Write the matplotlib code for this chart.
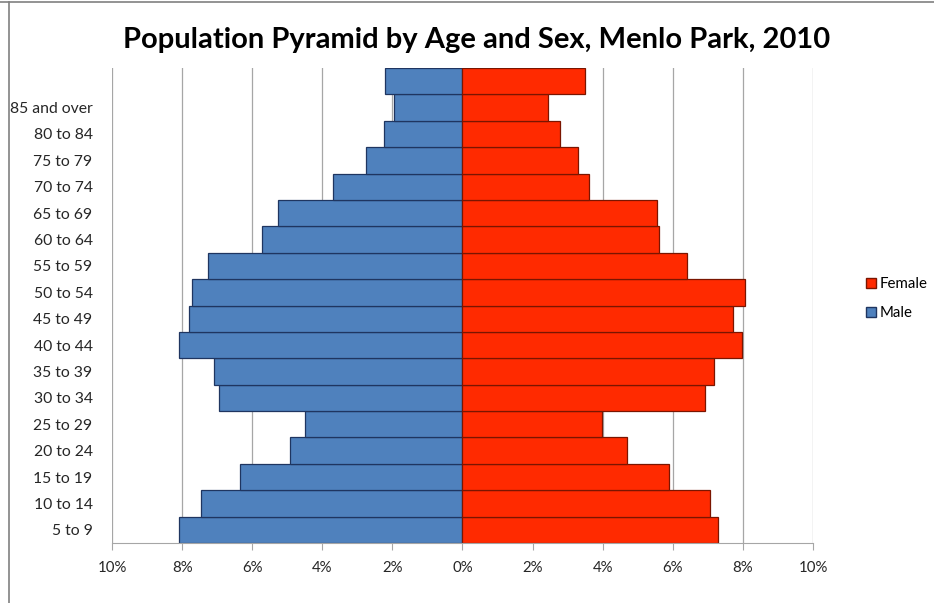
import matplotlib
matplotlib.use("Agg")
import matplotlib.pyplot as plt
from matplotlib.lines import Line2D

plt.rcParams['font.family'] = ['Lato', 'DejaVu Sans']

# age groups from bottom to top (top bar has no label in the original)
age_labels = ["5 to 9", "10 to 14", "15 to 19", "20 to 24", "25 to 29", "30 to 34",
              "35 to 39", "40 to 44", "45 to 49", "50 to 54", "55 to 59", "60 to 64",
              "65 to 69", "70 to 74", "75 to 79", "80 to 84", "85 and over", ""]
male = [8.08, 7.46, 6.34, 4.91, 4.49, 6.94, 7.08, 8.08, 7.80, 7.72, 7.25, 5.73,
        5.25, 3.70, 2.74, 2.25, 1.96, 2.22]
female = [7.29, 7.05, 5.89, 4.70, 3.99, 6.92, 7.19, 7.97, 7.72, 8.07, 6.40, 5.61,
          5.56, 3.60, 3.31, 2.77, 2.45, 3.50]
x_ticks = [-10, -8, -6, -4, -2, 0, 2, 4, 6, 8, 10]

blue = "#4F81BD"
red = "#FF2A00"

fig = plt.figure(figsize=(9.34, 6.03), dpi=100)
ax = fig.add_axes([0.1199, 0.0995, 0.7505, 0.7877])

y = range(len(age_labels))
ax.barh(y, [-m for m in male], height=1.0, color=blue, edgecolor="#1F3560",
        linewidth=0.9, label="Male", zorder=2)
ax.barh(y, female, height=1.0, color=red, edgecolor="#7A1500",
        linewidth=0.9, label="Female", zorder=2)

ax.set_xlim(-10, 10)
ax.set_ylim(-0.5, len(age_labels) - 0.5)
ax.set_xticks(x_ticks)
ax.set_xticklabels([f"{abs(t)}%" for t in x_ticks])
ax.set_yticks(list(y))
ax.set_yticklabels(age_labels)

ax.grid(axis="x", color="#A6A6A6", linewidth=0.9, zorder=0)
for s in ["top", "right", "left"]:
    ax.spines[s].set_visible(False)
ax.spines["bottom"].set_color("#A6A6A6")
ax.tick_params(axis="y", length=0, pad=14, labelsize=11.3, labelcolor="#262626")
ax.tick_params(axis="x", length=5, color="#A6A6A6", pad=8, labelsize=10.8,
               labelcolor="#262626")

fig.text(0.510, 0.933, "Population Pyramid by Age and Sex, Menlo Park, 2010",
         ha="center", va="center", fontsize=21, fontweight="bold", color="black")

handles = [Line2D([], [], marker="s", linestyle="none", markersize=7,
                  markerfacecolor=red, markeredgecolor="#7A1500", label="Female"),
           Line2D([], [], marker="s", linestyle="none", markersize=7,
                  markerfacecolor=blue, markeredgecolor="#1F3560", label="Male")]
fig.legend(handles=handles, loc="center left", bbox_to_anchor=(0.91, 0.505),
           frameon=False, fontsize=10.8, handletextpad=0.1, labelspacing=1.0,
           handlelength=1.0)

# chart border remnants at top and left
fig.add_artist(Line2D([0.0, 1.0], [0.996, 0.996], color="#808080", linewidth=1.2))
fig.add_artist(Line2D([0.0095, 0.0095], [0.0, 0.996], color="#808080", linewidth=1.2))

fig.savefig("out.png", dpi=100)
